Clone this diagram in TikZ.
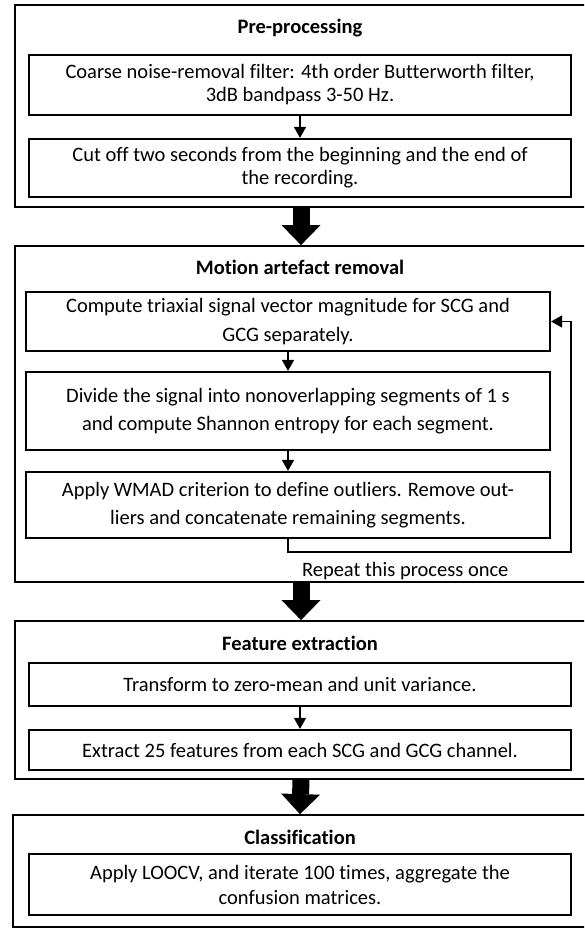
\documentclass[tikz,border=0pt]{standalone}
\usepackage{fontspec}
\setmainfont{Carlito}[Ligatures=NoCommon]
\usetikzlibrary{arrows.meta}

\begin{document}
\begin{tikzpicture}[>=latex,x=1pt,y=-1pt,
	groupbox/.style={draw,line width=1.8pt,inner sep=0pt,minimum width=572pt},
	grouptitle/.style={font=\fontsize{20.5}{24}\selectfont\bfseries},
	stepbox/.style={draw,line width=2.2pt,inner sep=2pt,align=center,font=\fontsize{20.5}{23}\selectfont},
	widestep/.style={stepbox,minimum width=542pt},
	loopstep/.style={stepbox,minimum width=524pt,font=\fontsize{20.5}{28.5}\selectfont},
	flow/.style={line width=1.6pt,-{Triangle[width=12pt,length=11pt]}},
	bigflow/.style={line width=17pt,-{Triangle[width=39pt,length=20pt,line width=0pt]}}]

\useasboundingbox (0,0) rectangle (584,928);
\clip (0,0) rectangle (584,928);

% outer groups
\node[groupbox,minimum height=202pt] (pre) at (301,106) {};
\node[groupbox,minimum height=336pt] (mot) at (301,414) {};
\node[groupbox,minimum height=158pt] (feat) at (301,700) {};
\node[groupbox,minimum height=112pt,minimum width=574pt] (cls) at (300,871) {};

\node[grouptitle] (pretitle) at (300,28) {Pre-processing};
\node[grouptitle] (mottitle) at (300,267) {Motion artefact removal};
\node[grouptitle] (feattitle) at (300,643) {Feature extraction};
\node[grouptitle] (clstitle) at (300,837) {Classification};

% steps
\node[widestep,minimum height=60pt] (pre1) at (300,85)
	{Coarse noise-removal filter: 4th order Butterworth filter,\\3dB bandpass 3-50~Hz.};
\node[widestep,minimum height=58pt] (pre2) at (300,168)
	{Cut off two seconds from the beginning and the end of\\the recording.};

\node[loopstep,minimum height=59pt] (mot1) at (288,321.5)
	{Compute triaxial signal vector magnitude for SCG and\\GCG separately.};
\node[loopstep,minimum height=78pt] (mot2) at (288,411)
	{Divide the signal into nonoverlapping segments of 1 s\\and compute Shannon entropy for each segment.};
\node[loopstep,minimum height=66pt] (mot3) at (288,505)
	{Apply WMAD criterion to define outliers. Remove out-\\liers and concatenate remaining segments.};
\coordinate (loopback) at (571,552);
\node[anchor=base east,font=\fontsize{20.5}{23}\selectfont] (repeat) at (512,576) {Repeat this process once};

\node[widestep,minimum height=43pt] (feat1) at (300,684.5) {Transform to zero-mean and unit variance.};
\node[widestep,minimum height=40pt] (feat2) at (300,750) {Extract 25 features from each SCG and GCG channel.};

\node[widestep,minimum height=61pt,font=\fontsize{20.5}{25}\selectfont] (cls1) at (300,884.5)
	{Apply LOOCV, and iterate 100 times, aggregate the\\confusion matrices.};

% connectors
\draw[flow] (pre1) -- (pre2);
\draw[flow] (mot1) -- (mot2);
\draw[flow] (mot2) -- (mot3);
\draw[flow] (mot3.south) |- (loopback) |- (mot1.east);
\draw[flow] (feat1) -- (feat2);

\draw[bigflow] (pre.south) -- (mot.north);
\draw[bigflow] (mot.south) -- (feat.north);
\draw[bigflow] (feat.south) -- (cls.north);

\end{tikzpicture}
\end{document}
